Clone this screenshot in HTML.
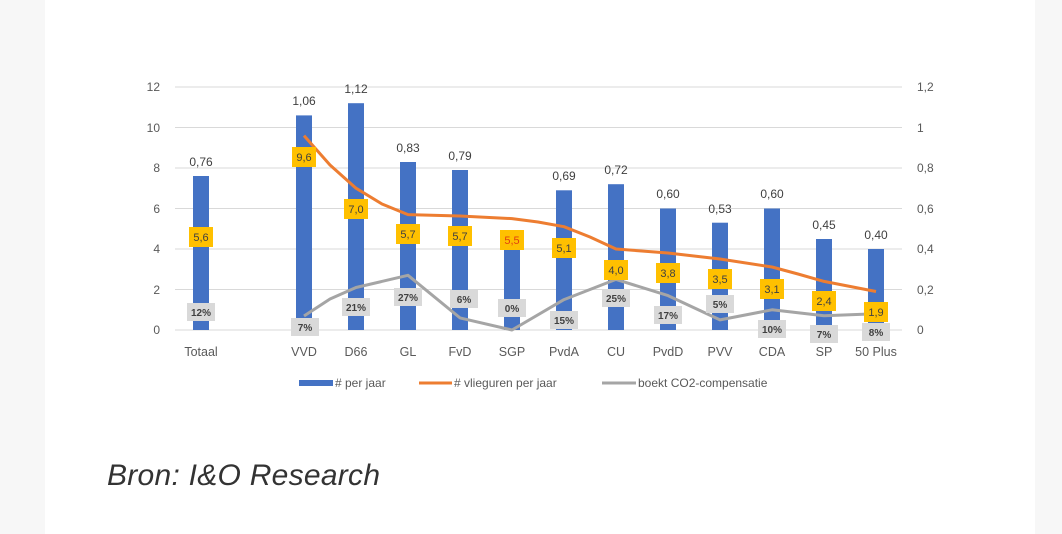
<!DOCTYPE html>
<html><head><meta charset="utf-8"><style>
html,body{margin:0;padding:0;background:#fff;}
body{width:1062px;height:534px;overflow:hidden;position:relative;font-family:"Liberation Sans",sans-serif;}
.l{position:absolute;left:0;top:0;width:45px;height:534px;background:#f7f7f7;}
.r{position:absolute;left:1035px;top:0;width:27px;height:534px;background:#f7f7f7;}
</style></head><body>
<div class="l"></div><div class="r"></div>
<svg width="1062" height="534" style="position:absolute;left:0;top:0" font-family="Liberation Sans, sans-serif">
<g stroke="#d9d9d9" stroke-width="1">
<line x1="175" x2="902" y1="87" y2="87"/><line x1="175" x2="902" y1="127.5" y2="127.5"/>
<line x1="175" x2="902" y1="168" y2="168"/><line x1="175" x2="902" y1="208.5" y2="208.5"/>
<line x1="175" x2="902" y1="249" y2="249"/><line x1="175" x2="902" y1="289.5" y2="289.5"/>
<line x1="175" x2="902" y1="330" y2="330"/>
</g>
<g font-size="12" fill="#595959" text-anchor="end">
<text x="160" y="91">12</text><text x="160" y="132">10</text><text x="160" y="172">8</text>
<text x="160" y="213">6</text><text x="160" y="253">4</text><text x="160" y="294">2</text><text x="160" y="334">0</text>
</g>
<g font-size="12" fill="#595959">
<text x="917" y="91">1,2</text><text x="917" y="132">1</text><text x="917" y="172">0,8</text>
<text x="917" y="213">0,6</text><text x="917" y="253">0,4</text><text x="917" y="294">0,2</text><text x="917" y="334">0</text>
</g>
<g fill="#4472c4">
<rect x="193" y="176" width="16" height="154"/>
<rect x="296" y="115.4" width="16" height="214.6"/>
<rect x="348" y="103.2" width="16" height="226.8"/>
<rect x="400" y="162" width="16" height="168"/>
<rect x="452" y="170" width="16" height="160"/>
<rect x="504" y="249" width="16" height="81"/>
<rect x="556" y="190.3" width="16" height="139.7"/>
<rect x="608" y="184.2" width="16" height="145.8"/>
<rect x="660" y="208.5" width="16" height="121.5"/>
<rect x="712" y="222.7" width="16" height="107.3"/>
<rect x="764" y="208.5" width="16" height="121.5"/>
<rect x="816" y="239" width="16" height="91"/>
<rect x="868" y="249" width="16" height="81"/>
</g>
<g font-size="12" fill="#404040" text-anchor="middle">
<text x="201" y="166">0,76</text><text x="304" y="105">1,06</text><text x="356" y="93">1,12</text>
<text x="408" y="152">0,83</text><text x="460" y="160">0,79</text><text x="564" y="180">0,69</text>
<text x="616" y="174">0,72</text><text x="668" y="198">0,60</text><text x="720" y="213">0,53</text>
<text x="772" y="198">0,60</text><text x="824" y="229">0,45</text><text x="876" y="239">0,40</text>
</g>
<polyline fill="none" stroke="#ed7d31" stroke-width="3" stroke-linejoin="round" points="304,135.6 330,165 356,188.2 382,204 408,214.6 460,216 512,218.6 538,222 564,226.7 590,237 616,249 668,253 720,259 772,267 798,274 824,281.4 876,291.5"/>
<polyline fill="none" stroke="#a5a5a5" stroke-width="3" stroke-linejoin="round" points="304,316 330,299 356,287.5 408,275.3 460,317.9 512,330 564,299.6 616,279.4 668,295.6 720,319.9 772,309.8 824,315.8 876,313.8"/>
<g font-size="11" text-anchor="middle">
<g fill="#ffc000">
<rect x="189" y="227" width="24" height="20"/><rect x="292" y="147" width="24" height="20"/>
<rect x="344" y="199" width="24" height="20"/><rect x="396" y="224" width="24" height="20"/>
<rect x="448" y="226" width="24" height="20"/><rect x="500" y="230" width="24" height="20"/>
<rect x="552" y="238" width="24" height="20"/><rect x="604" y="260" width="24" height="20"/>
<rect x="656" y="263" width="24" height="20"/><rect x="708" y="269" width="24" height="20"/>
<rect x="760" y="279" width="24" height="20"/><rect x="812" y="291" width="24" height="20"/>
<rect x="864" y="302" width="24" height="20"/>
</g>
<g fill="#404040">
<text x="201" y="241">5,6</text><text x="304" y="161">9,6</text><text x="356" y="213">7,0</text>
<text x="408" y="238">5,7</text><text x="460" y="240">5,7</text><text x="512" y="244" fill="#e04010">5,5</text>
<text x="564" y="252">5,1</text><text x="616" y="274">4,0</text><text x="668" y="277">3,8</text>
<text x="720" y="283">3,5</text><text x="772" y="293">3,1</text><text x="824" y="305">2,4</text><text x="876" y="316">1,9</text>
</g>
<g fill="#d9d9d9">
<rect x="187" y="303" width="28" height="18"/><rect x="291" y="318" width="28" height="18"/>
<rect x="342" y="298" width="28" height="18"/><rect x="394" y="288" width="28" height="18"/>
<rect x="450" y="290" width="28" height="18"/><rect x="498" y="299" width="28" height="18"/>
<rect x="550" y="311" width="28" height="18"/><rect x="602" y="289" width="28" height="18"/>
<rect x="654" y="306" width="28" height="18"/><rect x="706" y="295" width="28" height="18"/>
<rect x="758" y="320" width="28" height="18"/><rect x="810" y="325" width="28" height="18"/>
<rect x="862" y="323" width="28" height="18"/>
</g>
<g fill="#404040" font-size="10" font-weight="bold">
<text x="201" y="316">12%</text><text x="305" y="331">7%</text><text x="356" y="311">21%</text>
<text x="408" y="301">27%</text><text x="464" y="303">6%</text><text x="512" y="312">0%</text>
<text x="564" y="324">15%</text><text x="616" y="302">25%</text><text x="668" y="319">17%</text>
<text x="720" y="308">5%</text><text x="772" y="333">10%</text><text x="824" y="338">7%</text><text x="876" y="336">8%</text>
</g>
</g>
<g font-size="12.5" fill="#595959" text-anchor="middle">
<text x="201" y="356">Totaal</text><text x="304" y="356">VVD</text><text x="356" y="356">D66</text>
<text x="408" y="356">GL</text><text x="460" y="356">FvD</text><text x="512" y="356">SGP</text>
<text x="564" y="356">PvdA</text><text x="616" y="356">CU</text><text x="668" y="356">PvdD</text>
<text x="720" y="356">PVV</text><text x="772" y="356">CDA</text><text x="824" y="356">SP</text><text x="876" y="356">50 Plus</text>
</g>
<rect x="299" y="380" width="34" height="6" fill="#4472c4"/>
<line x1="419" x2="452" y1="383" y2="383" stroke="#ed7d31" stroke-width="3"/>
<line x1="602" x2="636" y1="383" y2="383" stroke="#a5a5a5" stroke-width="3"/>
<g font-size="12" fill="#595959">
<text x="335" y="387"># per jaar</text><text x="454" y="387"># vlieguren per jaar</text><text x="638" y="387">boekt CO2-compensatie</text>
</g>
<text x="107" y="485" font-size="30" font-style="italic" fill="#333" textLength="273">Bron: I&amp;O Research</text>
</svg>
</body></html>
